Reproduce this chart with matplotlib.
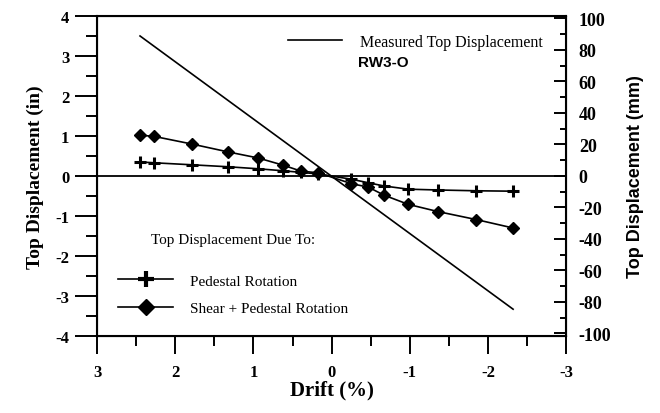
import matplotlib
matplotlib.use("Agg")
import matplotlib.pyplot as plt
from matplotlib.ticker import MultipleLocator
from matplotlib.lines import Line2D

plt.rcParams["axes.unicode_minus"] = False

# ---- data ----
measured_drift = [2.45, -2.32]
measured_disp = [3.50, -3.33]

ped_drift = [2.45, 2.27, 1.79, 1.32, 0.94, 0.62, 0.39, 0.17,
             -0.25, -0.47, -0.67, -0.98, -1.36, -1.85, -2.32]
ped_disp = [0.35, 0.33, 0.28, 0.23, 0.18, 0.13, 0.09, 0.05,
            -0.08, -0.17, -0.25, -0.33, -0.35, -0.37, -0.38]

shear_drift = [2.45, 2.27, 1.79, 1.32, 0.94, 0.62, 0.39, 0.17,
               -0.25, -0.47, -0.67, -0.98, -1.36, -1.85, -2.32]
shear_disp = [1.02, 0.99, 0.80, 0.60, 0.45, 0.27, 0.12, 0.08,
              -0.19, -0.28, -0.48, -0.71, -0.89, -1.09, -1.30]

IN_TO_MM = 25.4

serif = "Liberation Serif"
sans = "Liberation Sans"

fig = plt.figure(figsize=(6.6, 4.14), dpi=100)
ax = fig.add_axes([0.147, 0.186, 0.711, 0.773])

lw = 1.2
m_line, = ax.plot(measured_drift, measured_disp, color="black", lw=lw)
p_line, = ax.plot(ped_drift, ped_disp, color="black", lw=lw, marker="+",
                  ms=9, mew=2.2)
s_line, = ax.plot(shear_drift, shear_disp, color="black", lw=lw, marker="D",
                  ms=6.5)
ax.axhline(0, color="black", lw=1.3)

ax.set_xlim(3, -3)
ax.set_ylim(-4, 4)
ax.xaxis.set_major_locator(MultipleLocator(1))
ax.xaxis.set_minor_locator(MultipleLocator(0.5))
ax.yaxis.set_major_locator(MultipleLocator(1))
ax.yaxis.set_minor_locator(MultipleLocator(0.5))
ax.tick_params(axis="x", which="major", direction="out", length=13, width=1.4,
               pad=7)
ax.tick_params(axis="x", which="minor", direction="out", length=7, width=1.4)
ax.tick_params(axis="y", which="major", direction="out", length=16, width=1.4,
               pad=4)
ax.tick_params(axis="y", which="minor", direction="out", length=8, width=1.4)
for s in ax.spines.values():
    s.set_linewidth(1.5)

for lab in ax.get_xticklabels() + ax.get_yticklabels():
    lab.set_fontfamily(serif)
    lab.set_fontweight("bold")
    lab.set_fontsize(12)

ax.set_xlabel("Drift (%)", fontfamily=serif, fontweight="bold", fontsize=15,
              labelpad=0)
ax.set_ylabel("Top Displacement (in)", fontfamily=serif, fontweight="bold",
              fontsize=14, labelpad=8)

ax2 = ax.twinx()
ax2.set_ylim(-4 * IN_TO_MM, 4 * IN_TO_MM)
ax2.yaxis.set_major_locator(MultipleLocator(20))
ax2.yaxis.set_minor_locator(MultipleLocator(10))
ax2.tick_params(axis="y", which="major", direction="in", length=9, width=1.4,
                pad=9)
ax2.tick_params(axis="y", which="minor", direction="in", length=4.5, width=1.4)
for lab in ax2.get_yticklabels():
    lab.set_fontfamily(serif)
    lab.set_fontweight("bold")
    lab.set_fontsize(13)
ax2.set_ylabel("Top Displacement (mm)", fontfamily=sans, fontweight="bold",
               fontsize=13, labelpad=11)

# legends
leg1 = ax.legend([m_line], ["Measured Top Displacement"], loc="center right",
                 bbox_to_anchor=(0.95, 0.919), frameon=False,
                 prop={"family": serif, "size": 11.5}, handlelength=3.4,
                 handletextpad=1.1, borderaxespad=0, borderpad=0)
ax.add_artist(leg1)
ax.text(0.556, 0.856, "RW3-O", transform=ax.transAxes, fontfamily=sans,
        fontweight="bold", fontsize=11, va="center", ha="left")

h_p = Line2D([], [], color="black", lw=lw, marker="+", ms=12, mew=3)
h_s = Line2D([], [], color="black", lw=lw, marker="D", ms=8)
leg2 = ax.legend([h_p, h_s], ["Pedestal Rotation", "Shear + Pedestal Rotation"],
                 title="Top Displacement Due To:", loc="lower left",
                 bbox_to_anchor=(0.045, 0.065), frameon=False,
                 prop={"family": serif, "size": 11},
                 title_fontproperties={"family": serif, "size": 11},
                 handlelength=3.6, handletextpad=1.1, labelspacing=0.9,
                 borderaxespad=0, borderpad=0)
leg2._legend_box.sep = 20

fig.savefig("out.png", dpi=100)
